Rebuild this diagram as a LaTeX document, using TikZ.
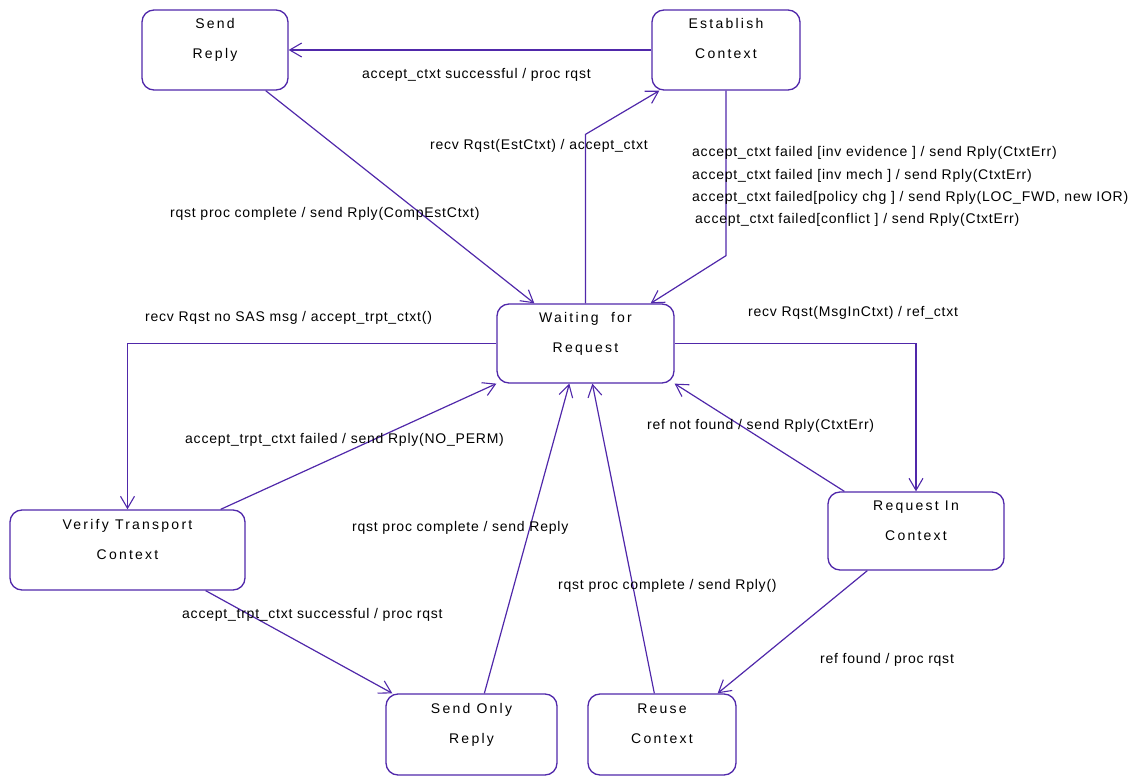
\documentclass[tikz,border=0pt]{standalone}
\usepackage{fontspec}
\setmainfont{Liberation Sans}
\newfontfamily\lblfont[LetterSpace=5.5]{Liberation Sans}
\newfontfamily\stfont[LetterSpace=16]{Liberation Sans}
\usetikzlibrary{arrows.meta,calc}
\definecolor{lc}{RGB}{80,40,170}
\newcommand\nt[2]{\raisebox{21pt}[0pt][0pt]{\makebox[0pt]{#1}}\raisebox{-9pt}[0pt][0pt]{\makebox[0pt]{#2}}}
\tikzset{
  stbox/.style={draw=lc, line width=1.3pt, rounded corners=12pt, inner sep=0pt,
    font=\stfont\fontsize{14}{16}\selectfont},
  lab/.style={anchor=west, inner sep=0pt, font=\lblfont\fontsize{14}{16}\selectfont},
  tr/.style={draw=lc, line width=1.2pt, -{Straight Barb[length=12pt,width=14pt,line width=1.1pt]}}
}
\begin{document}
\begin{tikzpicture}[x=1pt,y=-1pt]
\useasboundingbox (0,0) rectangle (1136,778);
% states
\node[stbox, minimum width=146pt, minimum height=80pt] (sr) at (215,50) {\nt{Send}{Reply}};
\node[stbox, minimum width=148pt, minimum height=80pt] (ec) at (726,50) {\nt{Establish}{Context}};
\node[stbox, minimum width=177pt, minimum height=79pt] (w) at (585.5,343.5) {\nt{Waiting \ for}{Request}};
\node[stbox, minimum width=235pt, minimum height=80pt] (v) at (127.5,550) {\nt{Verify Transport}{Context}};
\node[stbox, minimum width=176pt, minimum height=78pt] (ri) at (916,531) {\nt{Request In}{Context}};
\node[stbox, minimum width=171pt, minimum height=81pt] (so) at (471.5,734.5) {\nt{Send Only}{Reply}};
\node[stbox, minimum width=148pt, minimum height=81pt] (ru) at (662,734.5) {\nt{Reuse}{Context}};
% transitions
\draw[tr] (ec.west) -- (sr.east);
\draw[tr] ([xshift=-23pt]sr.south east) -- ([xshift=38pt]w.north west);
\draw[tr] (w.north) -- ++(0,-169) -- ([xshift=8pt]ec.south west);
\draw[tr] (ec.south) -- ++(0,165) -- ([xshift=-24pt]w.north east);
\draw[tr] (w.west) -| (v.north);
\draw[tr] (w.east) -| (ri.north);
\draw[tr] ([xshift=-25pt]v.north east) -- (w.south west);
\draw[tr] ([xshift=-40pt]v.south east) -- ([xshift=7pt]so.north west);
\draw[tr] ([xshift=99pt]so.north west) -- ([xshift=73pt]w.south west);
\draw[tr] ([xshift=67pt]ru.north west) -- ([xshift=96pt]w.south west);
\draw[tr] ([xshift=17pt]ri.north west) -- (w.south east);
\draw[tr] ([xshift=40pt]ri.south west) -- ([xshift=-19pt]ru.north east);
% labels
\node[lab] (l1) at (362,75) {accept\_ctxt successful / proc rqst};
\node[lab] (l2) at (430,146) {recv Rqst(EstCtxt) / accept\_ctxt};
\node[lab] (l3) at (692,153) {accept\_ctxt failed [inv evidence ] / send Rply(CtxtErr)};
\node[lab] (l4) at (692,176) {accept\_ctxt failed [inv mech ] / send Rply(CtxtErr)};
\node[lab] (l5) at (692,198) {accept\_ctxt failed[policy chg ] / send Rply(LOC\_FWD, new IOR)};
\node[lab] (l6) at (695,220) {accept\_ctxt failed[conflict ] / send Rply(CtxtErr)};
\node[lab] (l7) at (170,214) {rqst proc complete / send Rply(CompEstCtxt)};
\node[lab] (l8) at (145,318) {recv Rqst no SAS msg / accept\_trpt\_ctxt()};
\node[lab] (l9) at (748,313) {recv Rqst(MsgInCtxt) / ref\_ctxt};
\node[lab] (l10) at (647,426) {ref not found / send Rply(CtxtErr)};
\node[lab] (l11) at (185,440) {accept\_trpt\_ctxt failed / send Rply(NO\_PERM)};
\node[lab] (l12) at (352,528) {rqst proc complete / send Reply};
\node[lab] (l13) at (558,586) {rqst proc complete / send Rply()};
\node[lab] (l14) at (182,615) {accept\_trpt\_ctxt successful / proc rqst};
\node[lab] (l15) at (820,660) {ref found / proc rqst};
\end{tikzpicture}
\end{document}
